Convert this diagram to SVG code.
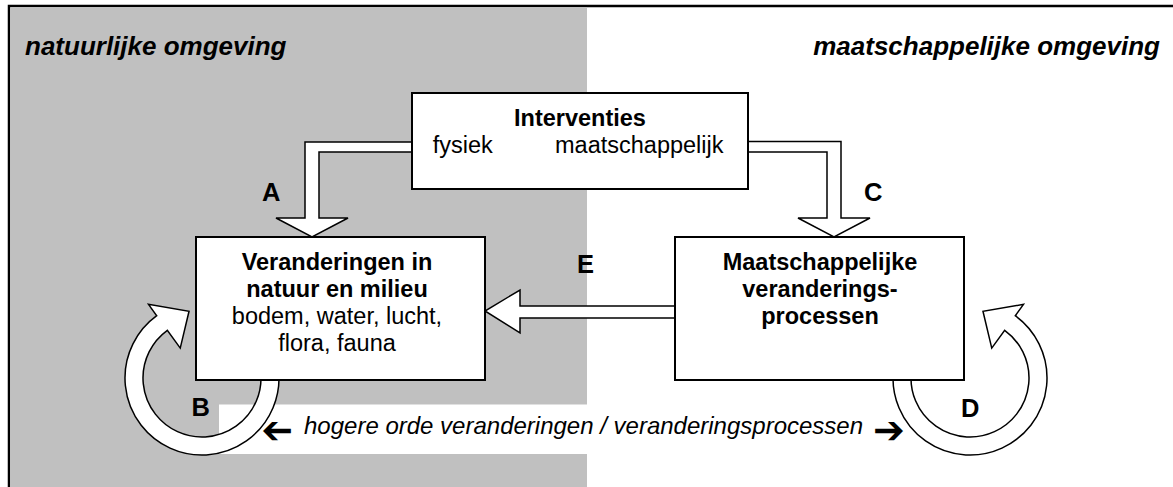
<svg xmlns="http://www.w3.org/2000/svg" width="1173" height="487" viewBox="0 0 1173 487">
<style>
text{font-family:"Liberation Sans",Arial,sans-serif;font-size:23.5px;fill:#000}
.b{font-weight:bold}
.lbl{font-weight:bold;font-size:25.5px}
.bi{font-weight:bold;font-style:italic;font-size:26px}
.i{font-style:italic;font-size:24px}
.sym{font-family:"DejaVu Sans",sans-serif;font-weight:bold;font-size:38px}
.box{fill:#fff;stroke:#000;stroke-width:2}
.arr{fill:#fff;stroke:#000;stroke-width:1.5;stroke-linejoin:miter}
</style>
<g id="background">
<rect x="9" y="6" width="1200" height="520" fill="#fff" stroke="#000" stroke-width="2.5"/>
<rect x="10.25" y="7.25" width="576.75" height="480" fill="#c0c0c0"/>
<rect x="219" y="404.5" width="700" height="49.5" fill="#fff"/>
<text class="bi" x="25" y="55">natuurlijke omgeving</text>
<text class="bi" x="1160" y="55" text-anchor="end">maatschappelijke omgeving</text>
<text class="sym" transform="translate(293,0) scale(-1,1)" x="0" y="443">➔</text>
<text class="i" x="304" y="434">hogere orde veranderingen / veranderingsprocessen</text>
<text class="sym" x="873" y="443">➔</text>
</g>
<g id="connectors">
<path class="arr" d="M412 142 H305 V218 H276 L312 237 L348 218 H319 V152 H412"/>
<path class="arr" d="M748 141.5 H841 V218 H870 L834 237 L798 218 H827 V152 H748"/>
<path class="arr" d="M675 306 H520 V290 L485 311 L520 333 V318 H675"/>
<path class="arr" d="M278.71 371.29 A77 77 0 1 1 156.74 315.71 L148.51 304.38 L189.03 311.25 L180.25 348.07 L167.32 330.27 A59 59 0 1 0 260.78 372.86 Z"/>
<path class="arr" d="M893.29 371.29 A77 77 0 1 0 1015.26 315.71 L1023.49 304.38 L982.97 311.25 L991.75 348.07 L1004.68 330.27 A59 59 0 1 1 911.22 372.86 Z"/>
<text class="lbl" x="262" y="201">A</text>
<text class="lbl" x="864" y="201">C</text>
<text class="lbl" x="577" y="273">E</text>
<text class="lbl" x="191.5" y="416">B</text>
<text class="lbl" x="961" y="416.5">D</text>
</g>
<g id="interventies">
<rect class="box" x="412" y="93" width="336" height="96"/>
<text class="b" x="580" y="126" text-anchor="middle">Interventies</text>
<text x="432.7" y="153">fysiek</text>
<text x="555" y="153">maatschappelijk</text>
</g>
<g id="natuur-milieu">
<rect class="box" x="196" y="237" width="289" height="143"/>
<text class="b" x="337" y="270" text-anchor="middle">Veranderingen in</text>
<text class="b" x="337" y="297" text-anchor="middle">natuur en milieu</text>
<text x="337" y="324" text-anchor="middle">bodem, water, lucht,</text>
<text x="337" y="351" text-anchor="middle">flora, fauna</text>
</g>
<g id="maatschappelijke-processen">
<rect class="box" x="675" y="237" width="289" height="143"/>
<text class="b" x="820" y="270" text-anchor="middle">Maatschappelijke</text>
<text class="b" x="820" y="297" text-anchor="middle">veranderings-</text>
<text class="b" x="820" y="324" text-anchor="middle">processen</text>
</g>
</svg>
